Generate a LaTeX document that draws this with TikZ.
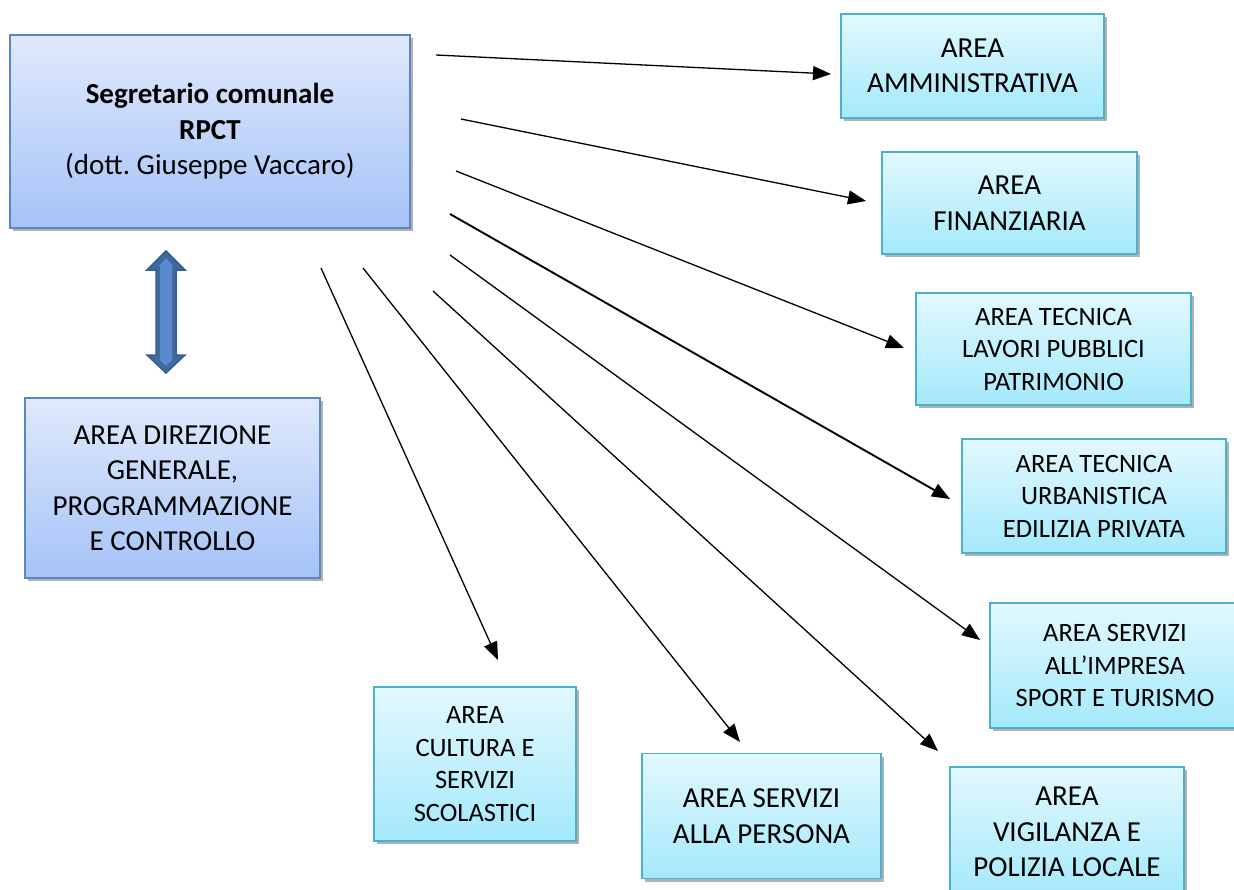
\documentclass[tikz,border=0pt]{standalone}
\usepackage{fontspec}
\setmainfont{Carlito}
\usetikzlibrary{arrows.meta,shadows}
\definecolor{bluetop}{HTML}{E0E9FC}
\definecolor{bluebot}{HTML}{A5C3F7}
\definecolor{blueedge}{HTML}{5B86C5}
\definecolor{cyantop}{HTML}{E2F8FE}
\definecolor{cyanbot}{HTML}{A4E9FB}
\definecolor{cyanedge}{HTML}{4AB0CC}
\definecolor{arrfill}{HTML}{3F6AA0}
\definecolor{arrinner}{HTML}{5A8ACB}
\definecolor{arredge}{HTML}{385D8A}
\tikzset{
  boxbase/.style={rectangle, align=center, inner sep=0pt, line width=1.3pt,
    drop shadow={shadow xshift=2.5pt, shadow yshift=-3pt, opacity=0.55, fill=black!55}},
  bluebox/.style={boxbase, draw=blueedge, top color=bluetop, bottom color=bluebot,
    font=\fontsize{29}{35.5}\selectfont},
  cyanbox/.style={boxbase, draw=cyanedge, top color=cyantop, bottom color=cyanbot,
    font=\fontsize{29}{35.5}\selectfont},
  smallfont/.style={font=\fontsize{26.5}{32.5}\selectfont},
  conn/.style={line width=1.3pt, -{Triangle[length=18pt,width=14pt]}},
}
\begin{document}
\frenchspacing
\begin{tikzpicture}[x=1pt,y=-1pt]
\clip (0,0) rectangle (1234,889);
\fill[white] (0,0) rectangle (1234,889);

\node[bluebox, minimum width=400pt, minimum height=193pt] (seg) at (210,131.5)
  {\textbf{Segretario comunale}\\\textbf{RPCT}\\(dott.\ Giuseppe Vaccaro)};
\node[bluebox, minimum width=295pt, minimum height=180pt] (dir) at (172.5,488)
  {AREA DIREZIONE\\GENERALE,\\PROGRAMMAZIONE\\E CONTROLLO};

\node[cyanbox, minimum width=263pt, minimum height=104pt] (amm) at (972.5,66)
  {AREA\\AMMINISTRATIVA};
\node[cyanbox, minimum width=255pt, minimum height=102pt] (fin) at (1009.5,203)
  {AREA\\FINANZIARIA};
\node[cyanbox, smallfont, minimum width=275pt, minimum height=112pt] (lav) at (1053.5,349)
  {AREA TECNICA\\LAVORI PUBBLICI\\PATRIMONIO};
\node[cyanbox, smallfont, minimum width=264pt, minimum height=114pt] (urb) at (1094,496)
  {AREA TECNICA\\URBANISTICA\\EDILIZIA PRIVATA};
\node[cyanbox, smallfont, minimum width=250pt, minimum height=125pt] (imp) at (1115,665.5)
  {AREA SERVIZI\\ALL’IMPRESA\\SPORT E TURISMO};
\node[cyanbox, minimum width=234pt, minimum height=130pt] (vig) at (1067,832)
  {AREA\\VIGILANZA E\\POLIZIA LOCALE};
\node[cyanbox, minimum width=239pt, minimum height=125pt] (per) at (761.5,816)
  {AREA SERVIZI\\ALLA PERSONA};
\node[cyanbox, smallfont, minimum width=202pt, minimum height=154pt] (cul) at (475,764)
  {AREA\\CULTURA E\\SERVIZI\\SCOLASTICI};

% double block arrow
\filldraw[fill=arrfill, draw=arredge, line width=1.5pt, line join=miter]
  (166,251) -- (185,270) -- (176,270) -- (176,355) -- (185,355) -- (166,373)
  -- (147,355) -- (156,355) -- (156,270) -- (147,270) -- cycle;
\fill[arrinner] (166,258) -- (173,266) -- (172,266) -- (172,359) -- (173,359)
  -- (166,366) -- (159,359) -- (160,359) -- (160,266) -- (159,266) -- cycle;

% connector start and end points
\coordinate (s1) at (436,55);   \coordinate (e1) at (831,74);
\coordinate (s2) at (461,119);  \coordinate (e2) at (866,201);
\coordinate (s3) at (456,171);  \coordinate (e3) at (904,348);
\coordinate (s4) at (450,214);  \coordinate (e4) at (950,499);
\coordinate (s5) at (450,255);  \coordinate (e5) at (980,640);
\coordinate (s6) at (433,291);  \coordinate (e6) at (938,751);
\coordinate (s7) at (363,268);  \coordinate (e7) at (740,742);
\coordinate (s8) at (321,268);  \coordinate (e8) at (498,660);

\draw[conn] (s1) -- (e1);
\draw[conn] (s2) -- (e2);
\draw[conn] (s3) -- (e3);
\draw[conn, line width=1.9pt] (s4) -- (e4);
\draw[conn] (s5) -- (e5);
\draw[conn] (s6) -- (e6);
\draw[conn] (s7) -- (e7);
\draw[conn] (s8) -- (e8);
\end{tikzpicture}
\end{document}
